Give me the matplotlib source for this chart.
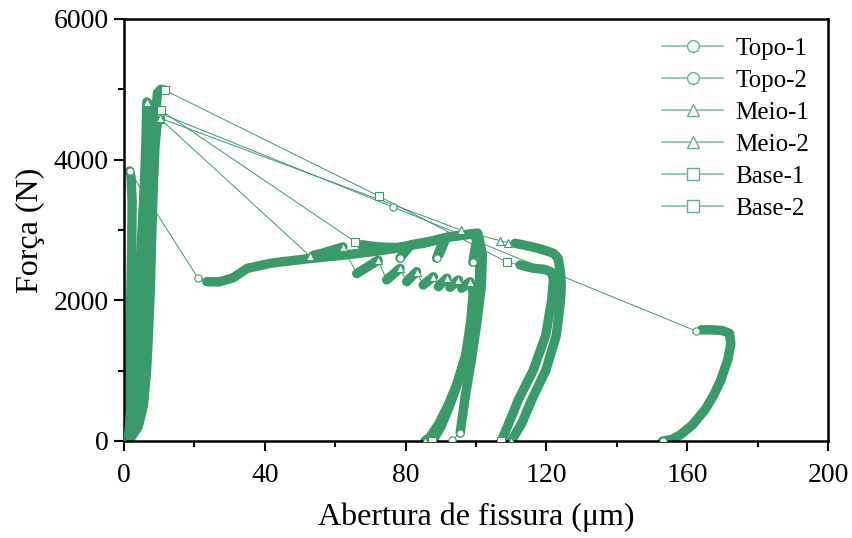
import numpy as np
import matplotlib.pyplot as plt
from matplotlib.lines import Line2D
from matplotlib.ticker import MultipleLocator

plt.rcParams['font.family'] = ['Liberation Serif', 'DejaVu Serif']

G = '#3a9a6a'

# each specimen is a list of stretches (x, y)
# long stretches = densely recorded parts, single points = sparse readings
topo1 = [
    ([0, 0.5, 1.0, 1.5, 1.9, 2.2, 2.3, 2.0, 1.6], [0, 300, 700, 1300, 2000, 2800, 3400, 3750, 3840]),
    ([21.0], [2318]),
    ([23.5, 27, 31, 35, 42, 52, 62, 72, 81, 78.4], [2265, 2262, 2320, 2455, 2530, 2590, 2640, 2700, 2770, 2600]),
    ([79.0, 81.5, 86, 91, 88.8], [2640, 2790, 2830, 2880, 2600]),
    ([89.5, 91.5, 96, 100.5, 99.1], [2650, 2890, 2930, 2955, 2545]),
    ([100.8, 101.8, 101.5, 100, 98.5, 97, 96, 95.5], [2900, 2650, 2200, 1600, 1100, 650, 300, 114]),
    ([93.2], [15]),
]
topo2 = [
    ([0, 1.0, 2.2, 3.2, 4.0, 4.9, 5.8, 6.8, 8.0, 10.2], [0, 400, 900, 1500, 2000, 2800, 3600, 4300, 4650, 4660]),
    ([76.4], [3327]),
    ([162.5], [1564]),
    ([164, 167, 170, 172, 172.4, 171.5, 169.5, 167.5, 165, 161.5, 158, 155.5, 153],
     [1580, 1580, 1570, 1530, 1380, 1150, 860, 650, 440, 230, 85, 20, 0]),
]
meio1 = [
    ([0, 0.8, 2.0, 3.3, 4.3, 5.1, 5.7, 6.2, 6.5], [0, 300, 700, 1200, 1900, 2700, 3500, 4200, 4820]),
    ([7.5, 8.5, 9.5, 10.3], [4780, 4700, 4620, 4580]),
    ([52.8], [2631]),
    ([53.8, 56, 59, 62.2], [2640, 2665, 2710, 2760]),
    ([66.1, 72.2], [2380, 2570]),
    ([74.6, 78.4], [2290, 2455]),
    ([80.3, 83.1], [2265, 2407]),
    ([85.0, 87.9], [2218, 2336]),
    ([89.3, 91.7], [2194, 2314]),
    ([92.6, 95.0], [2185, 2290]),
    ([95.9, 98.3], [2171, 2265]),
    ([98.8, 99.2, 98.5, 97, 94.5, 92, 89.5, 87, 85.5], [2200, 2100, 1700, 1200, 800, 500, 250, 60, 0]),
]
meio2 = [
    ([0, 2, 4, 5.5, 6.4, 7.0, 7.5, 7.9, 8.3, 8.8, 9.5, 10.3],
     [0, 50, 200, 500, 1000, 1600, 2200, 3000, 3600, 4200, 4550, 4590]),
    ([95.7], [3000]),
    ([106.8], [2848]),
    ([109.2], [2820]),
    ([111.1, 112.5, 116, 119, 122, 123.3, 124, 124.2, 124, 122.8, 119.8, 115.8, 113, 110.6, 110],
     [2811, 2797, 2760, 2720, 2669, 2600, 2400, 2200, 2000, 1500, 1000, 583, 250, 50, 0]),
]
base1 = [
    ([0, 2, 4, 5.5, 6.5, 7.3, 8.0, 8.7, 9.5, 10.5, 11.5], [0, 300, 700, 1200, 2000, 3000, 3800, 4500, 4950, 5000, 4990]),
    ([72.3], [3484]),
    ([108.9], [2541]),
    ([112.5, 116.3, 119.5, 121.5, 122, 121.5, 119.8, 116.2, 112, 109.3, 107.2],
     [2503, 2456, 2440, 2400, 2300, 2000, 1500, 1000, 583, 250, 0]),
]
base2 = [
    ([0, 1.5, 3, 4.3, 5.2, 6, 6.8, 7.6, 8.6, 10.5], [0, 300, 700, 1300, 2000, 2800, 3600, 4200, 4600, 4700]),
    ([65.6], [2834]),
    ([67.5, 72, 77.5, 85, 92, 100.2, 101.2, 101, 99.5, 97.5, 95, 92.5, 90, 88, 87.5],
     [2790, 2760, 2750, 2810, 2900, 2950, 2700, 2300, 1800, 1300, 850, 500, 200, 30, 0]),
]

names = ['Topo-1', 'Topo-2', 'Meio-1', 'Meio-2', 'Base-1', 'Base-2']
series = [topo1, topo2, meio1, meio2, base1, base2]
markers = ['o', 'o', '^', '^', 's', 's']

fig = plt.figure(figsize=(8.53, 5.38), dpi=100)
ax = fig.add_axes([0.1454, 0.1803, 0.8253, 0.7844])

for spec, m in zip(series, markers):
    allx = np.concatenate([np.asarray(s[0], float) for s in spec])
    ally = np.concatenate([np.asarray(s[1], float) for s in spec])
    ax.plot(allx, ally, color=G, lw=0.7, zorder=3)
    mx, my = [], []
    for sx, sy in spec:
        if len(sx) > 1:
            ax.plot(sx, sy, color=G, lw=6.8, solid_capstyle='round',
                    solid_joinstyle='round', zorder=2)
        mx.append(sx[-1])
        my.append(sy[-1])
    ax.plot(mx, my, ls='none', marker=m, ms=5.2, mfc='white', mec=G,
            mew=0.8, zorder=4)

ax.set_xlim(0, 200)
ax.set_ylim(0, 6000)
ax.xaxis.set_major_locator(MultipleLocator(40))
ax.xaxis.set_minor_locator(MultipleLocator(20))
ax.yaxis.set_major_locator(MultipleLocator(2000))
ax.yaxis.set_minor_locator(MultipleLocator(1000))
ax.tick_params(which='both', direction='out', top=False, right=False, width=1.5)
ax.tick_params(which='major', length=7, labelsize=20)
ax.tick_params(axis='x', which='major', pad=9)
ax.tick_params(axis='y', which='major', pad=4)
ax.tick_params(which='minor', length=4)
for sp in ax.spines.values():
    sp.set_linewidth(1.8)

ax.set_xlabel('Abertura de fissura (μm)', fontsize=23, labelpad=10)
ax.set_ylabel('Força (N)', fontsize=23, labelpad=6)

handles = [Line2D([], [], color='#7cc8a0', lw=1.2, marker=m, ms=8.5, mfc='white',
                  mec='#5fb58a', mew=1.0) for m in markers]
fig.legend(handles, names, loc='upper left', bbox_to_anchor=(0.776, 0.93),
           frameon=False, fontsize=18, handlelength=2.45, handletextpad=0.5,
           labelspacing=0.38, borderpad=0, borderaxespad=0)

fig.savefig('out.png', dpi=100)
